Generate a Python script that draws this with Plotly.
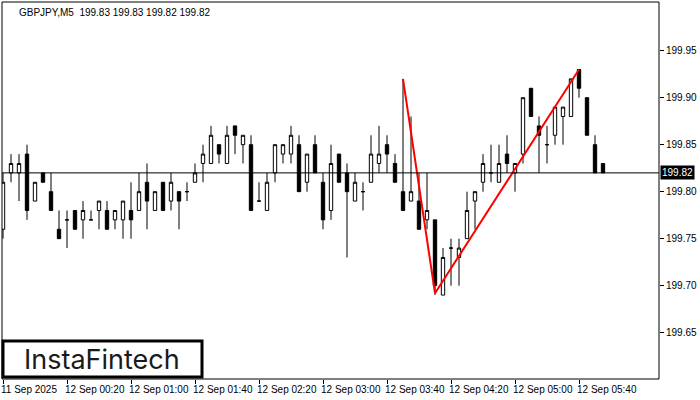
import plotly.graph_objects as go
import pandas as pd

# ---- data ----
opens = [199.76, 199.82, 199.82, 199.84, 199.79, 199.82, 199.80, 199.76, 199.77, 199.78,
         199.77, 199.77, 199.78, 199.78, 199.77, 199.77, 199.78, 199.78, 199.81, 199.78,
         199.81, 199.79, 199.80, 199.80, 199.81, 199.83, 199.83, 199.85, 199.83, 199.87,
         199.85, 199.85, 199.79, 199.78, 199.82, 199.84, 199.84, 199.85, 199.81, 199.85,
         199.81, 199.78, 199.84, 199.82, 199.79, 199.80, 199.81, 199.83, 199.85, 199.83,
         199.80, 199.79, 199.79, 199.77, 199.77, 199.69, 199.74, 199.73, 199.75, 199.79,
         199.81, 199.82, 199.81, 199.84, 199.82, 199.84, 199.91, 199.87, 199.85, 199.86,
         199.88, 199.88, 199.93, 199.90, 199.85, 199.83]
highs = [199.82, 199.84, 199.84, 199.85, 199.81, 199.82, 199.82, 199.78, 199.78, 199.78,
         199.79, 199.78, 199.79, 199.79, 199.78, 199.79, 199.81, 199.82, 199.83, 199.80,
         199.81, 199.82, 199.80, 199.81, 199.83, 199.85, 199.87, 199.85, 199.87, 199.87,
         199.86, 199.86, 199.81, 199.82, 199.85, 199.85, 199.87, 199.86, 199.84, 199.86,
         199.82, 199.85, 199.84, 199.83, 199.82, 199.81, 199.86, 199.87, 199.86, 199.84,
         199.92, 199.88, 199.82, 199.82, 199.77, 199.74, 199.75, 199.75, 199.80, 199.80,
         199.84, 199.85, 199.85, 199.86, 199.83, 199.90, 199.91, 199.88, 199.87, 199.89,
         199.89, 199.92, 199.93, 199.90, 199.86, 199.83]
lows = [199.75, 199.81, 199.79, 199.77, 199.79, 199.81, 199.78, 199.75, 199.74, 199.76,
        199.75, 199.77, 199.76, 199.76, 199.76, 199.75, 199.75, 199.78, 199.76, 199.78,
        199.78, 199.78, 199.76, 199.79, 199.81, 199.81, 199.83, 199.83, 199.83, 199.84,
        199.83, 199.78, 199.79, 199.78, 199.81, 199.83, 199.83, 199.80, 199.80, 199.82,
        199.76, 199.77, 199.81, 199.73, 199.79, 199.78, 199.81, 199.82, 199.82, 199.81,
        199.78, 199.79, 199.76, 199.76, 199.69, 199.69, 199.70, 199.70, 199.75, 199.76,
        199.80, 199.81, 199.81, 199.82, 199.80, 199.83, 199.88, 199.82, 199.83, 199.85,
        199.85, 199.88, 199.90, 199.86, 199.82, 199.82]
closes = [199.81, 199.83, 199.83, 199.78, 199.81, 199.81, 199.78, 199.75, 199.77, 199.76,
          199.78, 199.77, 199.79, 199.76, 199.78, 199.79, 199.77, 199.80, 199.79, 199.80,
          199.78, 199.81, 199.79, 199.80, 199.82, 199.84, 199.86, 199.84, 199.86, 199.86,
          199.86, 199.78, 199.79, 199.81, 199.85, 199.85, 199.86, 199.80, 199.84, 199.82,
          199.77, 199.83, 199.81, 199.80, 199.81, 199.80, 199.84, 199.84, 199.84, 199.81,
          199.78, 199.80, 199.76, 199.78, 199.70, 199.73, 199.74, 199.74, 199.78, 199.80,
          199.83, 199.82, 199.83, 199.83, 199.83, 199.90, 199.88, 199.86, 199.85, 199.89,
          199.89, 199.92, 199.91, 199.86, 199.82, 199.82]

start_time = "2025-09-11 23:40"
times = pd.date_range(start_time, periods=len(opens), freq="5min")

tick_times = ["2025-09-11 23:40", "2025-09-12 00:20", "2025-09-12 01:00", "2025-09-12 01:40",
              "2025-09-12 02:20", "2025-09-12 03:00", "2025-09-12 03:40", "2025-09-12 04:20",
              "2025-09-12 05:00", "2025-09-12 05:40"]
tick_labels = ["11 Sep 2025", "12 Sep 00:20", "12 Sep 01:00", "12 Sep 01:40", "12 Sep 02:20",
               "12 Sep 03:00", "12 Sep 03:40", "12 Sep 04:20", "12 Sep 05:00", "12 Sep 05:40"]

price_ticks = [199.65, 199.70, 199.75, 199.80, 199.85, 199.90, 199.95]
price_tick_labels = ["199.65", "199.70", "199.75", "199.80", "199.85", "199.90", "199.95"]

pattern_times = ["2025-09-12 03:50", "2025-09-12 04:10", "2025-09-12 05:40"]
pattern_prices = [199.92, 199.692, 199.93]

current_price = 199.82
header = "GBPJPY,M5  199.83 199.83 199.82 199.82"

# ---- figure ----
time_index = {t: i for i, t in enumerate(times)}
x_idx = list(range(len(opens)))
tick_idx = [time_index[pd.Timestamp(t)] for t in tick_times]
pattern_idx = [time_index[pd.Timestamp(t)] for t in pattern_times]

FONT = "Liberation Sans"

fig = go.Figure()
fig.add_trace(go.Candlestick(
    x=x_idx, open=opens, high=highs, low=lows, close=closes,
    increasing=dict(line=dict(color="black", width=1), fillcolor="white"),
    decreasing=dict(line=dict(color="black", width=1), fillcolor="black"),
    whiskerwidth=0, showlegend=False, hoverinfo="skip",
))
fig.add_trace(go.Scatter(
    x=pattern_idx, y=pattern_prices, mode="lines",
    line=dict(color="#ff0000", width=2), showlegend=False, hoverinfo="skip",
))

fig.update_layout(
    width=700, height=400,
    margin=dict(l=2, r=41, t=2, b=21),
    paper_bgcolor="white", plot_bgcolor="white",
    boxgap=0.4,
    font=dict(family=FONT, size=10, color="black"),
    xaxis=dict(
        range=[-0.125, 82.0], rangeslider=dict(visible=False),
        showgrid=False, zeroline=False, showline=False,
        tickvals=tick_idx, ticktext=[""] * len(tick_idx),
        ticks="outside", ticklen=4, tickcolor="black", tickwidth=1,
        showticklabels=False, fixedrange=True,
    ),
    yaxis=dict(
        range=[199.6007, 200.0018], side="right",
        showgrid=False, zeroline=False, showline=False,
        tickvals=price_ticks, ticktext=price_tick_labels,
        ticks="outside", ticklen=4, tickcolor="black", tickwidth=1,
        tickfont=dict(family=FONT, size=10, color="black"),
    ),
    shapes=[
        dict(type="line", xref="paper", yref="y", x0=0, x1=1,
             y0=current_price, y1=current_price,
             line=dict(color="black", width=1), layer="above"),
        dict(type="rect", xref="paper", yref="paper", x0=0, x1=1, y0=0, y1=1,
             line=dict(color="black", width=1), layer="above"),
        dict(type="rect", xref="paper", yref="paper",
             x0=(3 - 2) / 657, x1=(202 - 2) / 657,
             y0=1 - (377 - 2) / 377, y1=1 - (341 - 2) / 377,
             line=dict(color="black", width=3), fillcolor="white", layer="above"),
    ],
)

annotations = []
for idx, lab in zip(tick_idx, tick_labels):
    annotations.append(dict(x=idx, y=0, xref="x", yref="paper", text=lab,
                            showarrow=False, xanchor="left", yanchor="top",
                            xshift=-4, yshift=-3,
                            font=dict(family=FONT, size=10, color="black")))
annotations.append(dict(x=(17 - 2) / 657, y=1 - (12.5 - 2) / 377, xref="paper", yref="paper",
                        text=header, showarrow=False, xanchor="left", yanchor="middle",
                        font=dict(family=FONT, size=10, color="black")))
annotations.append(dict(x=1, y=current_price, xref="paper", yref="y",
                        text=str(current_price), showarrow=False, xanchor="left",
                        yanchor="middle", xshift=1, bgcolor="black", borderpad=1,
                        font=dict(family=FONT, size=10, color="white")))
annotations.append(dict(x=(102 - 2) / 657, y=1 - (359 - 2) / 377, xref="paper", yref="paper",
                        text="InstaFintech", showarrow=False, xanchor="center",
                        yanchor="middle",
                        font=dict(family="Inter", size=27, color="#1a1a1a")))
fig.update_layout(annotations=annotations)

fig.write_html("out.html", config={"displayModeBar": False},
               post_script="document.body.style.margin='0';document.body.style.overflow='hidden';")
